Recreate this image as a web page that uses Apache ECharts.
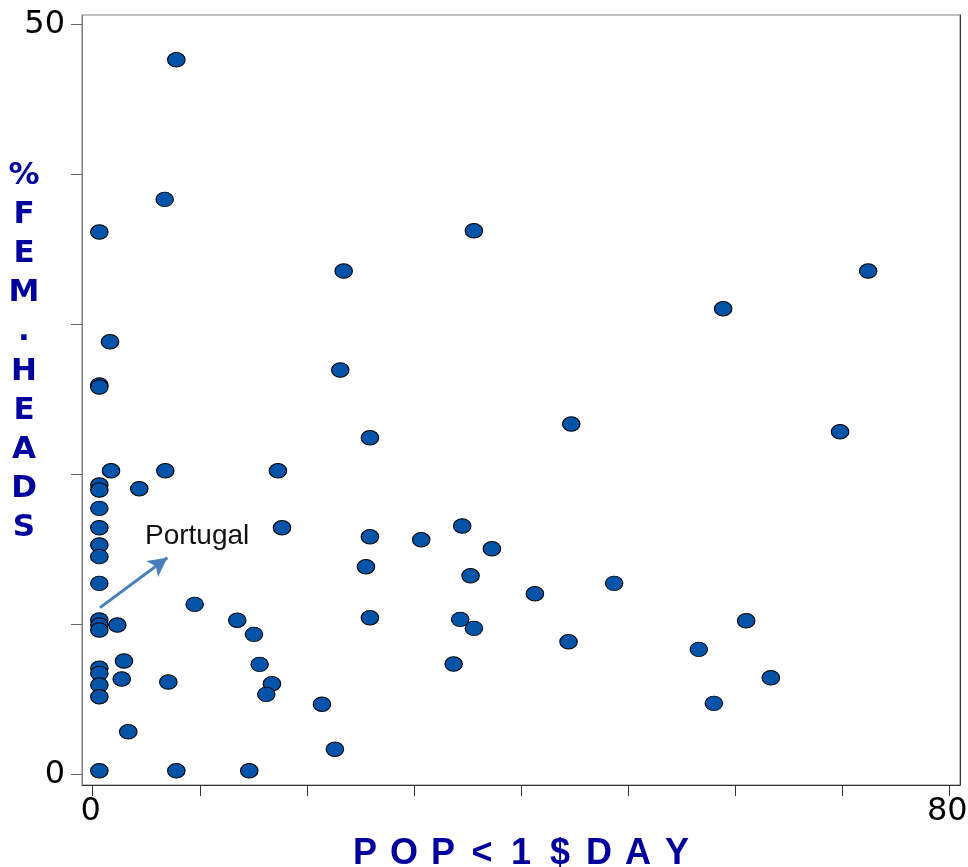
<!DOCTYPE html>
<html>
<head>
<meta charset="utf-8">
<script src="https://cdn.jsdelivr.net/npm/echarts@6/dist/echarts.min.js"></script>
<style>
html,body{margin:0;padding:0;background:#fff;}
#chart{width:968px;height:867px;}
</style>
</head>
<body>
<div id="chart"></div>
<script>
// % population under 1$ a day (x)
var popUnder1 = [
  7.81, 6.72, 0.62, 35.60, 23.44, 72.42, 58.88, 1.62, 0.62, 0.62,
  23.12, 44.69, 25.89, 69.80, 1.71, 6.78, 17.30, 4.35, 0.62, 0.62,
  0.62, 0.62, 17.68, 34.51, 25.89, 30.68, 37.28, 0.62, 0.62, 25.52,
  35.29, 41.30, 48.70, 0.62, 9.52, 0.62, 0.62, 0.62, 2.30, 13.50,
  25.89, 34.32, 35.60, 15.06, 61.03, 44.44, 56.61, 2.92, 0.62, 0.62,
  0.62, 0.62, 2.71, 15.59, 33.71, 7.06, 16.74, 16.21, 63.33, 21.41,
  58.01, 3.32, 22.62, 0.62, 7.81, 14.62
];
// % female-headed households (y)
var femHeads = [
  47.64, 38.33, 36.15, 36.24, 33.55, 33.55, 31.04, 28.84, 25.95, 25.82,
  26.95, 23.35, 22.44, 22.84, 20.24, 20.24, 20.24, 19.04, 19.29, 18.95,
  17.73, 16.44, 16.44, 16.55, 15.84, 15.64, 15.04, 15.29, 14.51, 13.84,
  13.24, 12.04, 12.73, 12.73, 11.33, 10.29, 9.95, 9.62, 9.95, 10.27,
  10.44, 10.33, 9.73, 9.33, 10.24, 8.84, 8.33, 7.55, 7.07, 6.73,
  5.95, 5.17, 6.35, 7.33, 7.35, 6.15, 6.04, 5.33, 6.44, 4.67,
  4.73, 2.84, 1.67, 0.24, 0.24, 0.24
];
var xTicks = [0, 10, 20, 30, 40, 50, 60, 70, 80];
var xTickLabels = [0, 80];
var yTicks = [0, 10, 20, 30, 40, 50];
var yTickLabels = [0, 50];
var xTitleLetters = ['P', 'O', 'P', '<', '1', '$', 'D', 'A', 'Y'];
var yTitleLetters = ['%', 'F', 'E', 'M', '.', 'H', 'E', 'A', 'D', 'S'];
var noteText = 'Portugal';
var noteArrowFrom = [0.68, 11.11];
var noteArrowTo = [6.97, 14.44];
var noteTextAt = [4.88, 15.85];

var points = popUnder1.map(function (x, i) { return [x, femHeads[i]]; });
var titleBlue = '#00009c';

var chart = echarts.init(document.getElementById('chart'));
chart.setOption({
  animation: false,
  backgroundColor: '#fff',
  grid: {
    left: 82, top: 15, right: 8, bottom: 82,
    containLabel: false, outerBoundsMode: 'none',
    show: true, borderColor: '#808080', borderWidth: 1, backgroundColor: 'transparent'
  },
  graphic: [{
    type: 'text',
    x: 24, y: 352,
    silent: true,
    style: {
      text: yTitleLetters.join('\n'),
      align: 'center', verticalAlign: 'middle',
      fontSize: 31, fontWeight: 'bold', fontFamily: 'DejaVu Sans',
      fill: titleBlue, lineHeight: 39.1
    }
  }],
  xAxis: {
    type: 'value', min: -1.0, max: 81.0,
    axisLine: { show: true, onZero: false, lineStyle: { color: '#333', width: 1 } },
    axisTick: { show: true, customValues: xTicks, length: 11, lineStyle: { color: '#333', width: 1 } },
    axisLabel: {
      customValues: xTickLabels, fontSize: 32, fontFamily: 'DejaVu Sans', color: '#000', margin: 11,
      padding: [0, 4, 0, 0]
    },
    splitLine: { show: false },
    name: xTitleLetters.map(function (l) { return '{a|' + l + '}'; }).join('{s| }'),
    nameLocation: 'middle',
    nameGap: 51,
    nameTextStyle: {
      rich: {
        a: { width: 28, align: 'center', fontSize: 36, fontWeight: 'bold', fontFamily: 'Liberation Sans', color: titleBlue },
        s: { width: 11, align: 'center', fontSize: 36, fontWeight: 'bold', fontFamily: 'Liberation Sans', color: titleBlue }
      }
    }
  },
  yAxis: [{
    type: 'value', min: -0.713, max: 50.62,
    axisLine: { show: true, onZero: false, lineStyle: { color: '#808080', width: 1 } },
    axisTick: { show: true, customValues: yTicks, length: 11, lineStyle: { color: '#666', width: 1 } },
    axisLabel: {
      customValues: yTickLabels, fontSize: 32, fontFamily: 'DejaVu Sans', color: '#000', margin: 17,
      padding: [0, 0, 10, 0]
    },
    splitLine: { show: false }
  }, {
    type: 'value', min: -0.713, max: 50.62, position: 'right',
    axisLine: { show: true, onZero: false, lineStyle: { color: '#333', width: 1 } },
    axisTick: { show: false }, axisLabel: { show: false }, splitLine: { show: false }
  }],
  series: [{
    type: 'scatter',
    data: points,
    symbol: 'circle',
    symbolSize: [17.5, 14.5],
    itemStyle: { color: '#0353a8', borderColor: '#000', borderWidth: 1, opacity: 1 },
    markLine: {
      silent: true,
      symbol: ['none', 'arrow'],
      symbolSize: [15, 19],
      lineStyle: { color: '#4a7ebb', width: 3, type: 'solid' },
      label: { show: false },
      data: [[{ coord: noteArrowFrom }, { coord: noteArrowTo }]]
    },
    markPoint: {
      silent: true,
      symbol: 'circle',
      symbolSize: 0,
      label: {
        show: true, position: 'right', distance: 0,
        formatter: noteText, fontSize: 28, fontFamily: 'Liberation Sans', color: '#111'
      },
      data: [{ coord: noteTextAt }]
    }
  }]
});
</script>
</body>
</html>
